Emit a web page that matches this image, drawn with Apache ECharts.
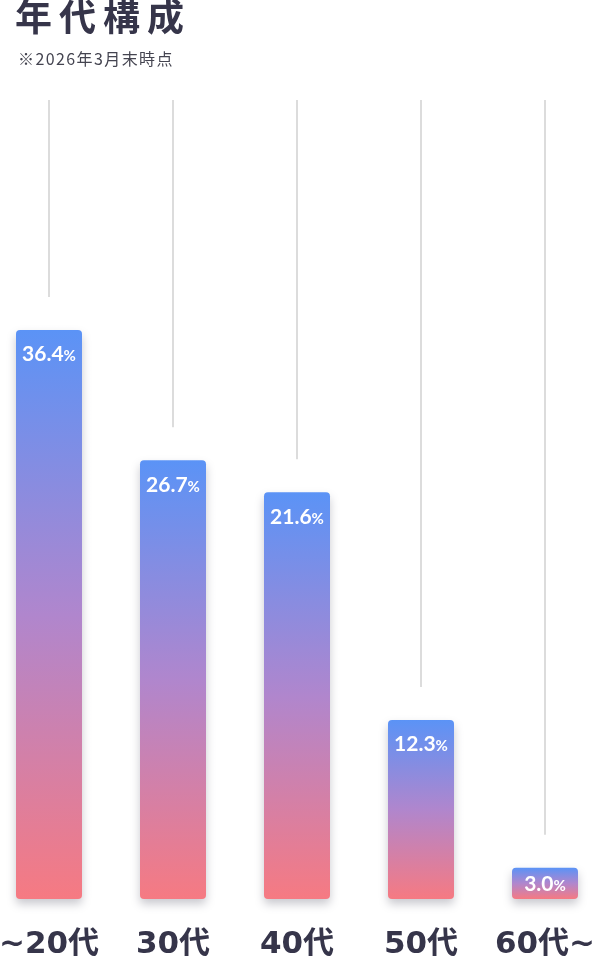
<!DOCTYPE html>
<html>
<head>
<meta charset="utf-8">
<script src="https://cdn.jsdelivr.net/npm/echarts@6/dist/echarts.min.js"></script>
<style>
  html, body { margin: 0; padding: 0; background: #ffffff; }
  #chart { width: 594px; height: 960px; }
</style>
</head>
<body>
<div id="chart"></div>
<script>
// ---- data ----
const titleText = '年代構成';
const subtitleText = '※2026年3月末時点';
const categories = ['~20代', '30代', '40代', '50代', '60代~'];
const shares = [36.4, 26.7, 21.6, 12.3, 3.0];          // printed percentages
const barLevels = [71.2, 54.9, 50.9, 22.4, 3.9];       // bar heights as drawn (0-100 scale, 100 = top of guide lines)

// ---- helpers ----
const CJK = "'Noto Sans CJK JP', sans-serif";
const NUM = "'DejaVu Sans', 'Noto Sans CJK JP', sans-serif";
const LBL = "Lato, 'Noto Sans CJK JP', sans-serif";
const ink = '#36354a';

function spacedRich(text, prefix, font, size, weight, spacing, color) {
  const ctx = document.createElement('canvas').getContext('2d');
  ctx.font = weight + ' ' + size + 'px ' + font;
  const rich = {};
  let fmt = '';
  Array.from(text).forEach((ch, i) => {
    const key = prefix + i;
    rich[key] = {
      fontSize: size, fontWeight: weight, fontFamily: font, color: color,
      width: Math.round((ctx.measureText(ch).width + spacing) * 10) / 10
    };
    fmt += '{' + key + '|' + ch + '}';
  });
  return { fmt, rich };
}

const t1 = spacedRich(titleText, 't', CJK, 37, 'bold', 7, ink);
const t2 = spacedRich(subtitleText, 's', CJK, 16, 'normal', 1.4, '#444450');

const chart = echarts.init(document.getElementById('chart'), null, { renderer: 'canvas' });

const barGradient = new echarts.graphic.LinearGradient(0, 0, 0, 1, [
  { offset: 0, color: '#5b93f6' },
  { offset: 0.5, color: '#b086cd' },
  { offset: 1, color: '#f67a82' }
]);

chart.setOption({
  backgroundColor: '#ffffff',
  animation: false,
  title: [
    { text: t1.fmt, left: 15, top: -2, padding: 0, textStyle: { rich: t1.rich } },
    { text: t2.fmt, left: 18, top: 51, padding: 0, textStyle: { rich: t2.rich } }
  ],
  grid: { left: 49, right: 49, top: 100, bottom: 61, containLabel: false, outerBoundsMode: 'none' },
  xAxis: {
    type: 'category',
    data: categories,
    boundaryGap: false,
    axisLine: { show: false },
    axisTick: { show: false },
    splitLine: { show: false },
    axisLabel: {
      margin: 30,
      fontSize: 31,
      fontWeight: 'bold',
      fontFamily: NUM,
      color: ink,
      interval: 0
    }
  },
  yAxis: {
    type: 'value',
    min: 0,
    max: 100,
    show: false,
    splitLine: { show: false }
  },
  series: [
    {
      type: 'custom',
      silent: true,
      z: 1,
      data: categories.map((c, i) => [i, barLevels[i]]),
      renderItem: function (params, api) {
        const top = api.coord([api.value(0), 100]);
        const bar = api.coord([api.value(0), api.value(1)]);
        return {
          type: 'line',
          shape: { x1: top[0], y1: top[1], x2: top[0], y2: bar[1] - 33 },
          style: { stroke: '#d4d4d4', lineWidth: 1.6 }
        };
      }
    },
    {
      type: 'bar',
      z: 2,
      barWidth: 66,
      data: barLevels.map((v, i) => ({
        value: v,
        label: i === barLevels.length - 1 ? { position: 'inside' } : undefined
      })),
      itemStyle: {
        color: barGradient,
        borderRadius: 4,
        shadowColor: 'rgba(60,60,80,0.28)',
        shadowBlur: 10,
        shadowOffsetY: 5
      },
      label: {
        show: true,
        position: 'insideTop',
        distance: 13,
        formatter: p => '{n|' + shares[p.dataIndex].toFixed(1) + '}{u|%}',
        rich: {
          n: { fontSize: 21, fontWeight: 'bold', fontFamily: LBL, color: '#ffffff', lineHeight: 22, verticalAlign: 'bottom' },
          u: { fontSize: 15, fontWeight: 'bold', fontFamily: LBL, color: '#ffffff', lineHeight: 22, verticalAlign: 'bottom', padding: [0, 0, 1, 0] }
        }
      }
    }
  ]
});
</script>
</body>
</html>
